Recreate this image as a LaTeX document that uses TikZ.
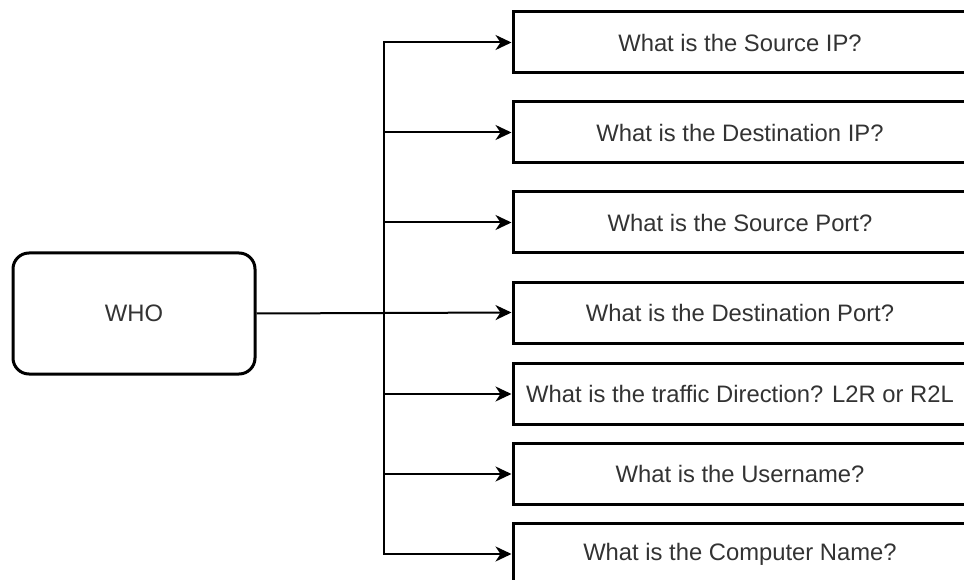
\documentclass[tikz,border=0pt]{standalone}
\usepackage{fontspec}
\setmainfont{Liberation Sans}
\usetikzlibrary{arrows.meta}
\definecolor{txt}{HTML}{333333}
\tikzset{
  qbox/.style={draw=black, line width=3pt, fill=white, rectangle,
    minimum width=454pt, minimum height=61pt, inner sep=0pt,
    text=txt, font=\fontsize{23.8}{28}\selectfont},
  rootbox/.style={draw=black, line width=3pt, fill=white, rectangle,
    rounded corners=16pt, minimum width=242pt, minimum height=121pt,
    inner sep=0pt, text=txt, font=\fontsize{23.8}{28}\selectfont},
  arr/.style={draw=black, line width=2pt,
    -{Stealth[length=16pt,width=15pt,inset=5pt]}},
}
\begin{document}
\begin{tikzpicture}[x=1pt,y=-1pt]
  \useasboundingbox (0,0) rectangle (964,580);
  \clip (0,0) rectangle (964,580);

  % root node
  \node[rootbox] (who) at (134,313.5) {WHO};

  % question boxes
  \node[qbox] (q1) at (740,42.5)  {What is the Source IP?};
  \node[qbox] (q2) at (740,132.5) {What is the Destination IP?};
  \node[qbox] (q3) at (740,222.5) {What is the Source Port?};
  \node[qbox] (q4) at (740,312.5) {What is the Destination Port?};
  \node[qbox] (q5) at (740,394)   {What is the traffic Direction? L2R or R2L};
  \node[qbox] (q6) at (740,474)   {What is the Username?};
  \node[qbox] (q7) at (740,554)   {What is the Computer Name?};

  % branching point on the vertical trunk
  \coordinate (j) at (384,312.5);

  \draw[arr] (who.east) -- (q4.west);
  \foreach \q in {q1,q2,q3,q5,q6,q7}
    \draw[arr] (j) |- (\q.west);
\end{tikzpicture}
\end{document}
